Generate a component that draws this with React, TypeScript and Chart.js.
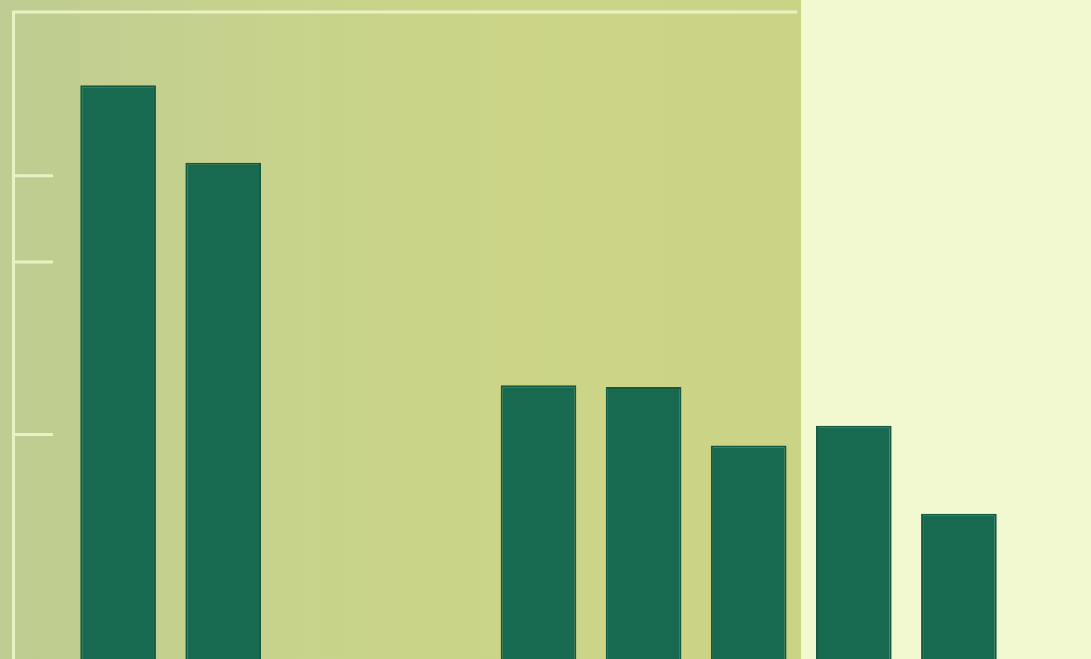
import React, { useEffect, useRef } from "react";
import { Chart, registerables } from "chart.js";

Chart.register(...registerables);

// Category slots (blank slots pad the ends; slots 3 and 4 hold no bar)
const categories = ["", "1", "2", "3", "4", "5", "6", "7", "8", "9", ""];
const values: (number | null)[] = [null, 70.5, 61.5, null, null, 35.7, 35.5, 28.7, 31.0, 20.8, null];
// Short tick marks visible on the left axis
const tickValues = [30, 50, 60];
const yMin = 0;
const yMax = 79;

const BAR = "#176a4f";
const BAR_EDGE = "#135a41";
const LINE = "#e9f2c3";

const backdrop = {
  id: "backdrop",
  beforeDraw(chart: any) {
    const { ctx, width, height, scales } = chart;
    const x = scales.x;
    const boundary = (x.getPixelForValue(7) + x.getPixelForValue(8)) / 2;
    ctx.save();
    const g = ctx.createLinearGradient(0, 0, boundary, 0);
    g.addColorStop(0, "#bfcc93");
    g.addColorStop(0.1, "#c1ce90");
    g.addColorStop(0.35, "#c7d38b");
    g.addColorStop(0.7, "#ccd587");
    g.addColorStop(1, "#cbd386");
    ctx.fillStyle = g;
    ctx.fillRect(0, 0, boundary, height);
    ctx.fillStyle = "#f2f8cf";
    ctx.fillRect(boundary, 0, width - boundary, height);
    ctx.restore();
  },
  beforeDatasetsDraw(chart: any) {
    const { ctx, chartArea, scales } = chart;
    const x = scales.x;
    const y = scales.y;
    const boundary = (x.getPixelForValue(7) + x.getPixelForValue(8)) / 2;
    ctx.save();
    ctx.strokeStyle = LINE;
    ctx.lineWidth = 3;
    ctx.beginPath();
    ctx.moveTo(chartArea.left, chartArea.top);
    ctx.lineTo(boundary - 4, chartArea.top);
    tickValues.forEach((v) => {
      const py = y.getPixelForValue(v);
      ctx.moveTo(chartArea.left, py);
      ctx.lineTo(chartArea.left + 40, py);
    });
    ctx.stroke();
    ctx.restore();
  },
};

export default function App() {
  const ref = useRef<HTMLCanvasElement>(null);
  useEffect(() => {
    if (!ref.current) return;
    const chart = new Chart(ref.current, {
      type: "bar",
      data: {
        labels: categories,
        datasets: [
          {
            data: values,
            backgroundColor: BAR,
            borderColor: BAR_EDGE,
            borderWidth: 2,
            categoryPercentage: 1,
            barPercentage: 0.72,
          },
        ],
      },
      options: {
        animation: false,
        responsive: false,
        maintainAspectRatio: false,
        layout: { padding: { left: 5, top: 12, right: 27, bottom: 0 } },
        plugins: { legend: { display: false }, tooltip: { enabled: false } },
        scales: {
          x: { type: "category", offset: false, display: false },
          y: {
            min: yMin,
            max: yMax,
            display: true,
            grid: { display: false },
            ticks: { display: false },
            border: { display: true, color: LINE, width: 3 },
          },
        },
      },
      plugins: [backdrop],
    });
    return () => chart.destroy();
  }, []);
  return (
    <div style={{ position: "fixed", left: 0, top: 0, width: 1091, height: 659, overflow: "hidden" }}>
      <canvas ref={ref} width={1091} height={693} style={{ display: "block", width: 1091, height: 693 }} />
    </div>
  );
}
